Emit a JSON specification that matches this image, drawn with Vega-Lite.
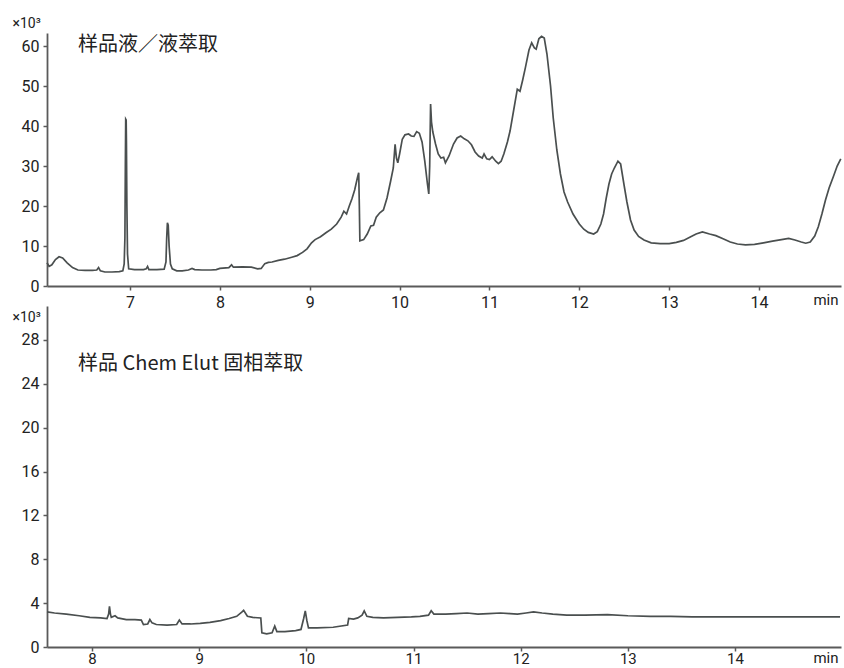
{
  "$schema": "https://vega.github.io/schema/vega-lite/v6.json",
  "padding": {"left": 12, "top": 16, "right": 3, "bottom": 0},
  "background": "white",
  "config": {
    "view": {"stroke": null},
    "axis": {
      "grid": false,
      "labelFont": "Roboto",
      "labelFontSize": 16,
      "labelColor": "#222222",
      "domainColor": "#5a5a5a",
      "domainWidth": 1.8,
      "tickColor": "#5a5a5a",
      "tickWidth": 1.5,
      "tickSize": 4,
      "titleFont": "Roboto",
      "titleFontWeight": "normal",
      "titleColor": "#222222"
    }
  },
  "datasets": {
    "lle": [
      {"t": 6.076, "v": 5.8}, {"t": 6.10, "v": 4.9}, {"t": 6.13, "v": 5.3}, {"t": 6.17, "v": 6.6}, {"t": 6.21, "v": 7.3},
      {"t": 6.25, "v": 7.0}, {"t": 6.30, "v": 5.8}, {"t": 6.36, "v": 4.6}, {"t": 6.42, "v": 4.0}, {"t": 6.50, "v": 3.9},
      {"t": 6.58, "v": 3.9}, {"t": 6.63, "v": 4.0}, {"t": 6.65, "v": 4.6}, {"t": 6.67, "v": 3.8}, {"t": 6.72, "v": 3.5},
      {"t": 6.80, "v": 3.5}, {"t": 6.88, "v": 3.6}, {"t": 6.92, "v": 3.8}, {"t": 6.935, "v": 5.5}, {"t": 6.943, "v": 12},
      {"t": 6.948, "v": 30}, {"t": 6.952, "v": 41.7}, {"t": 6.957, "v": 41.5}, {"t": 6.960, "v": 36}, {"t": 6.965, "v": 20},
      {"t": 6.972, "v": 8}, {"t": 6.985, "v": 4.3}, {"t": 7.05, "v": 4.1}, {"t": 7.15, "v": 4.1}, {"t": 7.18, "v": 4.3},
      {"t": 7.195, "v": 4.9}, {"t": 7.21, "v": 4.1}, {"t": 7.30, "v": 4.1}, {"t": 7.38, "v": 4.2}, {"t": 7.40, "v": 6},
      {"t": 7.408, "v": 12}, {"t": 7.416, "v": 15.8}, {"t": 7.425, "v": 15.2}, {"t": 7.435, "v": 10}, {"t": 7.45, "v": 5.5},
      {"t": 7.47, "v": 4.3}, {"t": 7.52, "v": 3.8}, {"t": 7.58, "v": 3.8}, {"t": 7.65, "v": 4.0}, {"t": 7.69, "v": 4.4},
      {"t": 7.72, "v": 4.1}, {"t": 7.80, "v": 4.0}, {"t": 7.90, "v": 4.0}, {"t": 7.96, "v": 4.1}, {"t": 8.00, "v": 4.4},
      {"t": 8.10, "v": 4.6}, {"t": 8.13, "v": 5.3}, {"t": 8.15, "v": 4.7}, {"t": 8.25, "v": 4.8}, {"t": 8.35, "v": 4.7},
      {"t": 8.42, "v": 4.3}, {"t": 8.46, "v": 4.4}, {"t": 8.50, "v": 5.6}, {"t": 8.54, "v": 5.9}, {"t": 8.58, "v": 6.0},
      {"t": 8.65, "v": 6.4}, {"t": 8.72, "v": 6.7}, {"t": 8.80, "v": 7.2}, {"t": 8.86, "v": 7.6}, {"t": 8.92, "v": 8.4},
      {"t": 8.97, "v": 9.3}, {"t": 9.02, "v": 10.8}, {"t": 9.06, "v": 11.6}, {"t": 9.12, "v": 12.3}, {"t": 9.18, "v": 13.3},
      {"t": 9.24, "v": 14.2}, {"t": 9.30, "v": 15.5}, {"t": 9.35, "v": 17.2}, {"t": 9.38, "v": 18.7}, {"t": 9.41, "v": 18.0},
      {"t": 9.44, "v": 20.0}, {"t": 9.47, "v": 21.8}, {"t": 9.50, "v": 24.0}, {"t": 9.53, "v": 27.0}, {"t": 9.545, "v": 28.3},
      {"t": 9.552, "v": 20}, {"t": 9.558, "v": 11.3}, {"t": 9.60, "v": 11.6}, {"t": 9.64, "v": 13.0}, {"t": 9.68, "v": 15.0},
      {"t": 9.71, "v": 15.2}, {"t": 9.74, "v": 17.2}, {"t": 9.78, "v": 18.3}, {"t": 9.82, "v": 19.0}, {"t": 9.86, "v": 22.0},
      {"t": 9.90, "v": 26.2}, {"t": 9.93, "v": 29.5}, {"t": 9.95, "v": 35.4}, {"t": 9.965, "v": 32}, {"t": 9.98, "v": 30.8},
      {"t": 10.00, "v": 33}, {"t": 10.03, "v": 36.7}, {"t": 10.06, "v": 37.8}, {"t": 10.10, "v": 38.0}, {"t": 10.13, "v": 37.5},
      {"t": 10.16, "v": 37.4}, {"t": 10.19, "v": 38.6}, {"t": 10.22, "v": 38.2}, {"t": 10.25, "v": 36}, {"t": 10.28, "v": 31.3},
      {"t": 10.31, "v": 25.5}, {"t": 10.325, "v": 23}, {"t": 10.335, "v": 30}, {"t": 10.345, "v": 45.5}, {"t": 10.355, "v": 41},
      {"t": 10.37, "v": 38.5}, {"t": 10.40, "v": 35.5}, {"t": 10.43, "v": 33}, {"t": 10.46, "v": 32}, {"t": 10.49, "v": 32.2},
      {"t": 10.51, "v": 30.8}, {"t": 10.55, "v": 32.5}, {"t": 10.60, "v": 35.5}, {"t": 10.64, "v": 37.0}, {"t": 10.68, "v": 37.5},
      {"t": 10.72, "v": 36.8}, {"t": 10.76, "v": 36.3}, {"t": 10.80, "v": 35.3}, {"t": 10.84, "v": 33.5}, {"t": 10.88, "v": 32.5},
      {"t": 10.92, "v": 32.0}, {"t": 10.94, "v": 33.0}, {"t": 10.97, "v": 31.8}, {"t": 11.00, "v": 31.6}, {"t": 11.03, "v": 32.3},
      {"t": 11.07, "v": 31.2}, {"t": 11.10, "v": 30.6}, {"t": 11.13, "v": 31.2}, {"t": 11.16, "v": 33.0}, {"t": 11.20, "v": 36},
      {"t": 11.23, "v": 38.8}, {"t": 11.27, "v": 44}, {"t": 11.31, "v": 49.2}, {"t": 11.34, "v": 48.7}, {"t": 11.37, "v": 51.5},
      {"t": 11.40, "v": 54.6}, {"t": 11.44, "v": 59}, {"t": 11.47, "v": 60.8}, {"t": 11.50, "v": 59.5}, {"t": 11.52, "v": 59.2},
      {"t": 11.55, "v": 61.8}, {"t": 11.58, "v": 62.4}, {"t": 11.61, "v": 62.0}, {"t": 11.64, "v": 58}, {"t": 11.68, "v": 50},
      {"t": 11.71, "v": 42}, {"t": 11.75, "v": 34}, {"t": 11.79, "v": 28}, {"t": 11.83, "v": 23.5}, {"t": 11.87, "v": 21},
      {"t": 11.93, "v": 18}, {"t": 12.00, "v": 15.5}, {"t": 12.05, "v": 14.2}, {"t": 12.10, "v": 13.4}, {"t": 12.16, "v": 13.0},
      {"t": 12.20, "v": 13.6}, {"t": 12.24, "v": 15.5}, {"t": 12.27, "v": 18.0}, {"t": 12.30, "v": 22}, {"t": 12.33, "v": 25.5},
      {"t": 12.36, "v": 28.0}, {"t": 12.39, "v": 29.5}, {"t": 12.43, "v": 31.2}, {"t": 12.46, "v": 30.5}, {"t": 12.50, "v": 25},
      {"t": 12.53, "v": 21}, {"t": 12.57, "v": 16.5}, {"t": 12.61, "v": 14.0}, {"t": 12.66, "v": 12.4}, {"t": 12.72, "v": 11.5},
      {"t": 12.80, "v": 10.8}, {"t": 12.90, "v": 10.6}, {"t": 13.00, "v": 10.6}, {"t": 13.08, "v": 10.9}, {"t": 13.16, "v": 11.4},
      {"t": 13.24, "v": 12.3}, {"t": 13.30, "v": 13.0}, {"t": 13.37, "v": 13.5}, {"t": 13.45, "v": 13.0}, {"t": 13.52, "v": 12.6},
      {"t": 13.60, "v": 11.8}, {"t": 13.68, "v": 11.0}, {"t": 13.76, "v": 10.5}, {"t": 13.85, "v": 10.3}, {"t": 13.95, "v": 10.4},
      {"t": 14.05, "v": 10.8}, {"t": 14.15, "v": 11.2}, {"t": 14.25, "v": 11.6}, {"t": 14.33, "v": 11.9}, {"t": 14.40, "v": 11.5},
      {"t": 14.47, "v": 11.0}, {"t": 14.52, "v": 10.7}, {"t": 14.57, "v": 11.0}, {"t": 14.62, "v": 12.5}, {"t": 14.66, "v": 14.8},
      {"t": 14.70, "v": 18.0}, {"t": 14.74, "v": 21.5}, {"t": 14.78, "v": 24.5}, {"t": 14.83, "v": 27.5}, {"t": 14.87, "v": 30},
      {"t": 14.91, "v": 31.8}
    ],
    "sle": [
      {"t": 7.58, "v": 3.2}, {"t": 7.65, "v": 3.1}, {"t": 7.76, "v": 3.0}, {"t": 7.88, "v": 2.85}, {"t": 7.98, "v": 2.7},
      {"t": 8.08, "v": 2.65}, {"t": 8.14, "v": 2.6}, {"t": 8.155, "v": 3.0}, {"t": 8.163, "v": 3.7}, {"t": 8.172, "v": 3.0},
      {"t": 8.18, "v": 2.7}, {"t": 8.215, "v": 2.85}, {"t": 8.24, "v": 2.65}, {"t": 8.32, "v": 2.5}, {"t": 8.40, "v": 2.5},
      {"t": 8.46, "v": 2.45}, {"t": 8.48, "v": 2.05}, {"t": 8.52, "v": 2.1}, {"t": 8.54, "v": 2.5}, {"t": 8.56, "v": 2.2},
      {"t": 8.60, "v": 2.05}, {"t": 8.70, "v": 2.0}, {"t": 8.79, "v": 2.05}, {"t": 8.815, "v": 2.45}, {"t": 8.84, "v": 2.1},
      {"t": 8.92, "v": 2.1}, {"t": 9.01, "v": 2.15}, {"t": 9.10, "v": 2.25}, {"t": 9.20, "v": 2.4}, {"t": 9.28, "v": 2.6},
      {"t": 9.35, "v": 2.8}, {"t": 9.40, "v": 3.2}, {"t": 9.415, "v": 3.35}, {"t": 9.45, "v": 2.8}, {"t": 9.50, "v": 2.7},
      {"t": 9.575, "v": 2.65}, {"t": 9.585, "v": 1.3}, {"t": 9.63, "v": 1.2}, {"t": 9.68, "v": 1.3}, {"t": 9.705, "v": 1.9},
      {"t": 9.725, "v": 1.4}, {"t": 9.80, "v": 1.4}, {"t": 9.90, "v": 1.5}, {"t": 9.95, "v": 1.6}, {"t": 9.975, "v": 2.6},
      {"t": 9.99, "v": 3.3}, {"t": 10.005, "v": 2.4}, {"t": 10.02, "v": 1.75}, {"t": 10.10, "v": 1.75}, {"t": 10.25, "v": 1.8},
      {"t": 10.385, "v": 2.0}, {"t": 10.395, "v": 2.6}, {"t": 10.44, "v": 2.55}, {"t": 10.48, "v": 2.65}, {"t": 10.52, "v": 2.9},
      {"t": 10.54, "v": 3.3}, {"t": 10.565, "v": 2.8}, {"t": 10.62, "v": 2.7}, {"t": 10.72, "v": 2.65}, {"t": 10.85, "v": 2.7},
      {"t": 10.98, "v": 2.75}, {"t": 11.06, "v": 2.8}, {"t": 11.14, "v": 2.9}, {"t": 11.165, "v": 3.3}, {"t": 11.19, "v": 3.0},
      {"t": 11.30, "v": 3.0}, {"t": 11.40, "v": 3.05}, {"t": 11.50, "v": 3.1}, {"t": 11.60, "v": 3.0}, {"t": 11.70, "v": 3.05},
      {"t": 11.81, "v": 3.1}, {"t": 11.90, "v": 3.05}, {"t": 11.97, "v": 3.0}, {"t": 12.05, "v": 3.1}, {"t": 12.12, "v": 3.2},
      {"t": 12.20, "v": 3.1}, {"t": 12.30, "v": 3.0}, {"t": 12.43, "v": 2.9}, {"t": 12.60, "v": 2.9}, {"t": 12.81, "v": 2.95},
      {"t": 13.00, "v": 2.85}, {"t": 13.21, "v": 2.8}, {"t": 13.40, "v": 2.8}, {"t": 13.60, "v": 2.75}, {"t": 13.83, "v": 2.75},
      {"t": 14.05, "v": 2.75}, {"t": 14.24, "v": 2.75}, {"t": 14.50, "v": 2.75}, {"t": 14.75, "v": 2.75}, {"t": 14.98, "v": 2.75}
    ]
  },
  "spacing": 20,
  "bounds": "flush",
  "vconcat": [
    {
      "width": 794,
      "height": 253,
      "layer": [
        {
          "data": {"name": "lle"},
          "mark": {"type": "line", "color": "#4a4f4f", "strokeWidth": 1.7},
          "encoding": {
            "x": {
              "field": "t", "type": "quantitative",
              "scale": {"domain": [6.076, 14.9125], "nice": false, "zero": false},
              "axis": {
                "values": [7, 8, 9, 10, 11, 12, 13, 14], "format": "d",
                "labelPadding": 4, "labelFlush": false,
                "title": "min", "titleX": 791, "titleY": 18, "titleAlign": "right",
                "titleBaseline": "alphabetic", "titleAngle": 0, "titleFontSize": 15
              }
            },
            "y": {
              "field": "v", "type": "quantitative",
              "scale": {"domain": [0, 63.25], "nice": false},
              "axis": {
                "values": [0, 10, 20, 30, 40, 50, 60], "format": "d",
                "labelPadding": 4,
                "title": "×10³", "titleAngle": 0, "titleX": -35, "titleY": -6,
                "titleAlign": "left", "titleBaseline": "alphabetic", "titleFontSize": 14
              }
            }
          }
        },
        {
          "data": {"values": [{}]},
          "mark": {"type": "text", "font": "Noto Sans CJK SC", "fontSize": 20, "align": "left", "baseline": "middle", "color": "#222222"},
          "encoding": {
            "x": {"datum": 6.421, "type": "quantitative"},
            "y": {"datum": 60.25, "type": "quantitative"},
            "text": {"value": "样品液／液萃取"}
          }
        }
      ]
    },
    {
      "width": 794,
      "height": 341,
      "layer": [
        {
          "data": {"name": "sle"},
          "mark": {"type": "line", "color": "#4a4f4f", "strokeWidth": 1.7},
          "encoding": {
            "x": {
              "field": "t", "type": "quantitative",
              "scale": {"domain": [7.58, 14.989], "nice": false, "zero": false},
              "axis": {
                "values": [8, 9, 10, 11, 12, 13, 14], "format": "d",
                "labelPadding": 0, "labelFontSize": 15, "labelFlush": false,
                "title": "min", "titleX": 791, "titleY": 15, "titleAlign": "right",
                "titleBaseline": "alphabetic", "titleAngle": 0, "titleFontSize": 15
              }
            },
            "y": {
              "field": "v", "type": "quantitative",
              "scale": {"domain": [0, 31.1], "nice": false},
              "axis": {
                "values": [0, 4, 8, 12, 16, 20, 24, 28], "format": "d",
                "labelPadding": 4,
                "title": "×10³", "titleAngle": 0, "titleX": -35, "titleY": 15,
                "titleAlign": "left", "titleBaseline": "alphabetic", "titleFontSize": 14
              }
            }
          }
        },
        {
          "data": {"values": [{}]},
          "mark": {"type": "text", "font": "Noto Sans CJK SC", "fontSize": 20, "align": "left", "baseline": "middle", "color": "#222222"},
          "encoding": {
            "x": {"datum": 7.87, "type": "quantitative"},
            "y": {"datum": 25.8, "type": "quantitative"},
            "text": {"value": "样品 Chem Elut 固相萃取"}
          }
        }
      ]
    }
  ]
}
